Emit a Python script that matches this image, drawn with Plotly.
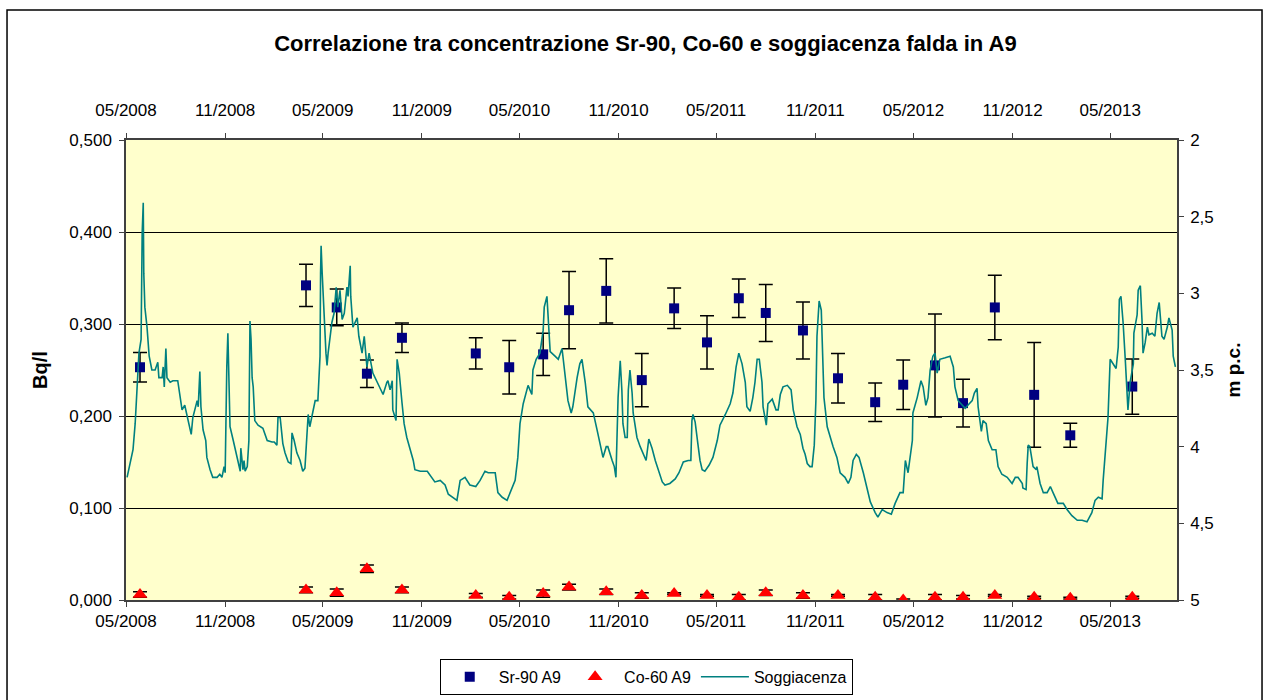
import pandas as pd
import plotly.graph_objects as go

# ---------------- data ----------------
sample_dates = [
    "2008-05-27", "2009-03-31", "2009-05-27", "2009-07-22", "2009-09-25",
    "2010-02-09", "2010-04-12", "2010-06-14", "2010-08-01", "2010-10-09",
    "2010-12-14", "2011-02-12", "2011-04-14", "2011-06-12", "2011-08-01",
    "2011-10-09", "2011-12-13", "2012-02-20", "2012-04-12", "2012-06-10",
    "2012-08-01", "2012-09-29", "2012-12-11", "2013-02-16", "2013-06-11",
]
sr90 = [0.253, 0.342, 0.318, 0.246, 0.285, 0.268, 0.253, 0.267, 0.315, 0.336,
        0.239, 0.317, 0.280, 0.328, 0.312, 0.293, 0.241, 0.215, 0.234, 0.255,
        0.214, 0.318, 0.223, 0.179, 0.232]
sr90_err = [0.016, 0.023, 0.020, 0.015, 0.016, 0.017, 0.029, 0.023, 0.042, 0.035,
            0.029, 0.022, 0.029, 0.021, 0.031, 0.031, 0.027, 0.021, 0.027, 0.056,
            0.026, 0.035, 0.057, 0.013, 0.030]
co60 = [0.006, 0.011, 0.008, 0.034, 0.011, 0.005, 0.003, 0.007, 0.014, 0.009,
        0.005, 0.007, 0.005, 0.003, 0.008, 0.005, 0.005, 0.003, 0.000, 0.003,
        0.003, 0.005, 0.003, 0.002, 0.003]
co60_err = [0.003, 0.003, 0.004, 0.004, 0.003, 0.002, 0.002, 0.004, 0.003, 0.003,
            0.003, 0.001, 0.001, 0.003, 0.003, 0.003, 0.001, 0.003, 0.001, 0.003,
            0.002, 0.001, 0.001, 0.001, 0.001]

# Soggiacenza: days since 2008-05-01 and depth (m p.c.)
sogg_start = "2008-05-01"
sogg_day = [
    2, 13, 17, 20, 24, 28, 29, 30, 32, 33, 35, 39, 43, 48, 54, 59, 61, 67, 69, 71,
    74, 76, 82, 87, 96, 104, 109, 115, 121, 124, 132, 134, 137, 139, 143, 148, 150, 156, 161, 169,
    174, 178, 182, 184, 186, 187, 189, 191, 193, 199, 206, 212, 213, 217, 219, 221, 225, 228, 230, 232,
    234, 236, 239, 245, 254, 262, 271, 275, 280, 282, 286, 291, 295, 301, 306, 308, 312, 317, 323, 328,
    332, 336, 338, 341, 345, 347, 351, 356, 360, 361, 362, 364, 367, 371, 373, 375, 382, 386, 390, 393,
    397, 401, 405, 410, 412, 416, 417, 421, 429, 432, 438, 442, 447, 451, 458, 466, 471, 477, 484, 486,
    490, 494, 495, 501, 503, 507, 512, 516, 521, 527, 533, 536, 546, 559, 568, 573, 583, 592, 598, 607,
    614, 620, 629, 638, 649, 657, 666, 672, 685, 690, 698, 707, 713, 722, 727, 731, 737, 746, 753, 755,
    761, 768, 774, 776, 781, 783, 787, 796, 802, 809, 815, 820, 826, 829, 837, 842, 846, 852, 857, 867,
    874, 880, 885, 891, 894, 902, 906, 909, 913, 917, 920, 922, 926, 930, 932, 935, 939, 941, 948, 954,
    959, 965, 970, 976, 982, 987, 995, 1000, 1009, 1019, 1026, 1034, 1043, 1048, 1050, 1052, 1056, 1061, 1065, 1069,
    1074, 1082, 1089, 1097, 1102, 1112, 1121, 1126, 1132, 1137, 1143, 1149, 1152, 1158, 1163, 1167, 1171, 1175, 1180, 1182,
    1188, 1191, 1199, 1206, 1210, 1214, 1219, 1227, 1234, 1238, 1245, 1251, 1256, 1260, 1264, 1269, 1273, 1277, 1280, 1282,
    1286, 1290, 1292, 1295, 1301, 1304, 1312, 1319, 1325, 1334, 1340, 1345, 1349, 1355, 1360, 1368, 1375, 1381, 1390, 1395,
    1403, 1412, 1420, 1427, 1436, 1442, 1446, 1451, 1459, 1460, 1468, 1475, 1479, 1484, 1488, 1492, 1497, 1501, 1505, 1510,
    1520, 1529, 1535, 1538, 1544, 1551, 1557, 1562, 1570, 1574, 1579, 1581, 1587, 1590, 1596, 1600, 1607, 1614, 1618, 1625,
    1635, 1644, 1650, 1655, 1663, 1664, 1670, 1672, 1674, 1677, 1683, 1689, 1690, 1696, 1702, 1709, 1715, 1720, 1729, 1739,
    1746, 1755, 1765, 1774, 1783, 1792, 1798, 1804, 1811, 1813, 1818, 1822, 1826, 1831, 1837, 1841, 1843, 1846, 1850, 1854,
    1857, 1859, 1863, 1869, 1870, 1876, 1878, 1882, 1885, 1887, 1891, 1895, 1898, 1904, 1909, 1913, 1917, 1922, 1926, 1932,
    1935, 1941, 1943, 1947,
]
sogg = [
    4.20, 4.02, 3.85, 3.65, 3.39, 3.30, 2.70, 2.61, 2.41, 2.87, 3.09, 3.22, 3.41, 3.50, 3.50, 3.45, 3.55, 3.55, 3.48, 3.61,
    3.36, 3.55, 3.58, 3.57, 3.57, 3.76, 3.73, 3.83, 3.92, 3.81, 3.70, 3.74, 3.51, 3.74, 3.89, 3.96, 4.07, 4.15, 4.20, 4.20,
    4.18, 4.20, 4.13, 4.17, 3.52, 3.48, 3.26, 3.52, 3.87, 3.96, 4.07, 4.16, 4.01, 4.15, 4.09, 4.16, 4.13, 3.96, 3.18, 3.30,
    3.55, 3.61, 3.83, 3.86, 3.88, 3.96, 3.97, 3.97, 3.99, 3.81, 3.81, 3.98, 4.04, 4.10, 4.11, 3.91, 3.96, 4.04, 4.09, 4.16,
    4.14, 3.94, 3.79, 3.87, 3.81, 3.76, 3.70, 3.70, 3.41, 2.87, 2.69, 2.87, 3.13, 3.39, 3.47, 3.39, 3.19, 3.13, 2.96, 3.09,
    2.98, 3.17, 3.13, 2.96, 3.02, 2.82, 3.02, 3.22, 3.16, 3.28, 3.39, 3.28, 3.48, 3.39, 3.52, 3.58, 3.61, 3.66, 3.58, 3.57,
    3.63, 3.57, 3.76, 3.83, 3.43, 3.52, 3.71, 3.85, 3.94, 4.01, 4.09, 4.15, 4.16, 4.16, 4.20, 4.23, 4.22, 4.25, 4.31, 4.33,
    4.35, 4.22, 4.20, 4.25, 4.26, 4.22, 4.16, 4.17, 4.17, 4.30, 4.33, 4.35, 4.30, 4.22, 4.07, 3.85, 3.72, 3.60, 3.66, 3.50,
    3.43, 3.39, 3.24, 3.09, 3.02, 3.15, 3.38, 3.41, 3.43, 3.36, 3.57, 3.70, 3.78, 3.74, 3.55, 3.46, 3.43, 3.58, 3.74, 3.78,
    3.89, 3.98, 4.07, 4.00, 4.00, 4.09, 4.13, 4.20, 3.68, 3.44, 3.63, 3.85, 3.94, 3.94, 3.63, 3.50, 3.65, 3.78, 3.94, 4.00,
    4.04, 4.09, 3.95, 4.01, 4.09, 4.15, 4.23, 4.25, 4.24, 4.21, 4.17, 4.10, 4.09, 4.09, 3.83, 3.79, 3.84, 3.98, 4.09, 4.15,
    4.16, 4.12, 4.07, 3.96, 3.86, 3.79, 3.72, 3.65, 3.48, 3.39, 3.46, 3.58, 3.74, 3.77, 3.68, 3.58, 3.43, 3.43, 3.58, 3.74,
    3.86, 3.72, 3.69, 3.76, 3.76, 3.66, 3.61, 3.60, 3.63, 3.76, 3.87, 3.92, 4.01, 4.05, 4.11, 4.13, 4.13, 3.99, 3.70, 3.28,
    3.05, 3.11, 3.41, 3.68, 3.87, 3.91, 4.00, 4.07, 4.17, 4.20, 4.24, 4.20, 4.09, 4.05, 4.07, 4.17, 4.28, 4.36, 4.43, 4.46,
    4.41, 4.43, 4.44, 4.37, 4.30, 4.30, 4.09, 4.17, 3.96, 3.78, 3.68, 3.57, 3.61, 3.73, 3.68, 3.50, 3.41, 3.39, 3.52, 3.43,
    3.42, 3.41, 3.48, 3.61, 3.70, 3.73, 3.75, 3.73, 3.70, 3.65, 3.62, 3.74, 3.90, 3.83, 3.85, 3.96, 4.02, 4.02, 4.13, 4.18,
    4.20, 4.24, 4.20, 4.20, 4.24, 4.27, 4.28, 4.11, 3.99, 4.00, 4.13, 4.15, 4.13, 4.24, 4.30, 4.30, 4.26, 4.30, 4.37, 4.37,
    4.41, 4.45, 4.48, 4.48, 4.49, 4.43, 4.35, 4.33, 4.34, 4.22, 4.00, 3.81, 3.43, 3.46, 3.49, 3.35, 3.04, 3.02, 3.19, 3.43,
    3.65, 3.76, 3.58, 3.46, 3.26, 3.14, 2.98, 2.95, 3.17, 3.39, 3.32, 3.22, 3.27, 3.26, 3.28, 3.13, 3.06, 3.28, 3.30, 3.22,
    3.16, 3.24, 3.41, 3.48,
]

x_range = ["2008-05-01", "2013-09-02"]
title_text = "Correlazione tra concentrazione Sr-90, Co-60 e soggiacenza falda in A9"

# ---------------- figure ----------------
sogg_x = [pd.Timestamp(sogg_start) + pd.Timedelta(days=d) for d in sogg_day]
FONT = "Liberation Sans, Arial, sans-serif"

fig = go.Figure()
fig.add_trace(go.Scatter(
    x=sample_dates, y=sr90, mode="markers", name="Sr-90 A9",
    marker=dict(symbol="square", size=10, color="#000080"),
    error_y=dict(type="data", array=sr90_err, color="black", thickness=1.5, width=7),
    xaxis="x", yaxis="y",
))
fig.add_trace(go.Scatter(
    x=sample_dates, y=co60, mode="markers", name="Co-60 A9",
    marker=dict(symbol="triangle-up", size=13, color="#FF0000"),
    error_y=dict(type="data", array=co60_err, color="black", thickness=1.5, width=7),
    xaxis="x", yaxis="y",
))
fig.add_trace(go.Scatter(
    x=sogg_x, y=sogg, mode="lines", name="Soggiacenza",
    line=dict(color="#008080", width=1.6),
    xaxis="x2", yaxis="y2",
))

axis_line = "#404040"
TICK = 17
fig.update_layout(
    width=1263, height=700,
    margin=dict(l=126, r=86, t=140, b=100, autoexpand=False),
    paper_bgcolor="white", plot_bgcolor="#FFFFCC",
    separators=",.",
    font=dict(family=FONT, size=TICK, color="black"),
    title=dict(text=title_text, x=0.511, xanchor="center", xref="container",
               y=0.938, yanchor="middle", yref="container",
               font=dict(family=FONT, size=22, color="black", weight="bold")),
    showlegend=True,
    legend=dict(orientation="h", x=0.495, xanchor="center", y=-0.128, yanchor="top",
                bordercolor="black", borderwidth=1, bgcolor="white",
                font=dict(family=FONT, size=16), itemwidth=48,
                traceorder="normal", tracegroupgap=0),
    xaxis=dict(type="date", range=x_range, tick0="2008-05-01", dtick="M6",
               tickformat="%m/%Y", showgrid=False, zeroline=False, automargin=False,
               showline=True, linecolor=axis_line, linewidth=1.5,
               ticks="outside", ticklen=5, tickcolor=axis_line,
               tickfont=dict(size=TICK)),
    xaxis2=dict(type="date", range=x_range, tick0="2008-05-01", dtick="M6",
                tickformat="%m/%Y", overlaying="x", side="top", matches="x",
                showgrid=False, zeroline=False, automargin=False,
                showline=True, linecolor=axis_line, linewidth=1.5,
                ticks="outside", ticklen=5, tickcolor=axis_line,
                ticklabelstandoff=10, tickfont=dict(size=TICK)),
    yaxis=dict(range=[0, 0.5], dtick=0.1, tickformat=".3f",
               showgrid=True, gridcolor="black", gridwidth=1, zeroline=False,
               automargin=False,
               showline=True, linecolor=axis_line, linewidth=1.5,
               ticks="outside", ticklen=5, tickcolor=axis_line,
               ticklabelstandoff=4, tickfont=dict(size=TICK),
               title=dict(text="<b>Bq/l</b>", font=dict(size=20), standoff=16)),
    yaxis2=dict(range=[5, 2], dtick=0.5, overlaying="y", side="right",
                showgrid=False, zeroline=False, automargin=False,
                showline=True, linecolor=axis_line, linewidth=1.5,
                ticks="outside", ticklen=5, tickcolor=axis_line,
                ticklabelstandoff=3, tickfont=dict(size=TICK),
                title=dict(text="<b>m p.c.</b>", font=dict(size=19), standoff=14)),
    shapes=[dict(type="rect", xref="paper", yref="paper",
                 x0=-0.1132, x1=1.0809, y0=-0.26, y1=1.2826,
                 line=dict(color="black", width=1.5), fillcolor="rgba(0,0,0,0)",
                 layer="below")],
)

fig.write_html(
    "out.html",
    config={"displayModeBar": False},
    post_script="document.body.style.margin='0';document.body.style.overflow='hidden';",
)
